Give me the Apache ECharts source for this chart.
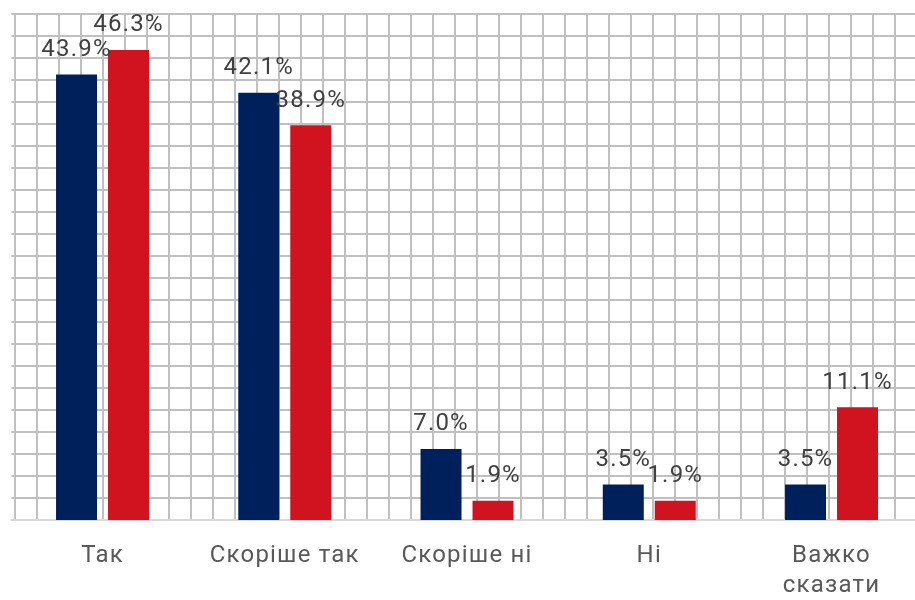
<!DOCTYPE html>
<html>
<head>
<meta charset="utf-8">
<script src="https://cdn.jsdelivr.net/npm/echarts@6/dist/echarts.min.js"></script>
<style>html,body{margin:0;padding:0;background:#fff}#c{width:915px;height:600px}</style>
</head>
<body>
<div id="c"></div>
<script>
const categories = ['Так', 'Скоріше так', 'Скоріше ні', 'Ні', 'Важко\nсказати'];
const seriesA = [43.9, 42.1, 7.0, 3.5, 3.5];
const seriesB = [46.3, 38.9, 1.9, 1.9, 11.1];

// slight letter spacing, as in the reference typography
(function () {
  const P = CanvasRenderingContext2D.prototype;
  const LS = '1.2px';
  const f = P.fillText, m = P.measureText;
  P.fillText = function () { this.letterSpacing = LS; return f.apply(this, arguments); };
  P.measureText = function () { this.letterSpacing = LS; return m.apply(this, arguments); };
})();

const chart = echarts.init(document.getElementById('c'), null, {renderer: 'canvas'});
const gridLine = {show: true, lineStyle: {color: '#c0c0c0', width: 2}};
const lbl = {
  show: true, position: 'top', distance: 12,
  fontFamily: 'Roboto', fontSize: 24, color: '#404040',
  formatter: p => p.value.toFixed(1) + '%'
};
chart.setOption({
  animation: false,
  grid: [
    {left: 11.4, top: 14, width: 911.25, height: 506, outerBoundsMode: 'none', containLabel: false},
    {left: 14.7, top: 14, width: 902.4, height: 506, outerBoundsMode: 'none', containLabel: false}
  ],
  xAxis: [
    {type: 'category', data: categories, gridIndex: 0,
     axisLine: {show: true, lineStyle: {color: '#d9d9d9', width: 2}},
     axisTick: {show: false},
     axisLabel: {interval: 0, fontFamily: 'Roboto', fontSize: 24, color: '#595959', margin: 21, lineHeight: 30},
     splitLine: {show: false}},
    {type: 'value', gridIndex: 1, min: 0, max: 41, interval: 1,
     axisLine: {show: false}, axisTick: {show: false}, axisLabel: {show: false},
     splitLine: gridLine}
  ],
  yAxis: [
    {type: 'value', gridIndex: 0, min: 0, max: 49.85,
     axisLine: {show: false}, axisTick: {show: false}, axisLabel: {show: false},
     splitLine: {show: false}},
    {type: 'value', gridIndex: 0, min: 0, max: 23, interval: 1, position: 'left',
     axisLine: {show: false}, axisTick: {show: false}, axisLabel: {show: false},
     splitLine: gridLine},
    {type: 'value', gridIndex: 1, min: 0, max: 1,
     axisLine: {show: false}, axisTick: {show: false}, axisLabel: {show: false},
     splitLine: {show: false}}
  ],
  series: [
    {type: 'bar', xAxisIndex: 0, yAxisIndex: 0, data: seriesA, barWidth: 41, barGap: '26.8%',
     itemStyle: {color: '#00205B'}, label: lbl, z: 3},
    {type: 'bar', xAxisIndex: 0, yAxisIndex: 0, data: seriesB, barWidth: 41, barGap: '26.8%',
     itemStyle: {color: '#D1131F'}, label: lbl, z: 3}
  ]
});
</script>
</body>
</html>
